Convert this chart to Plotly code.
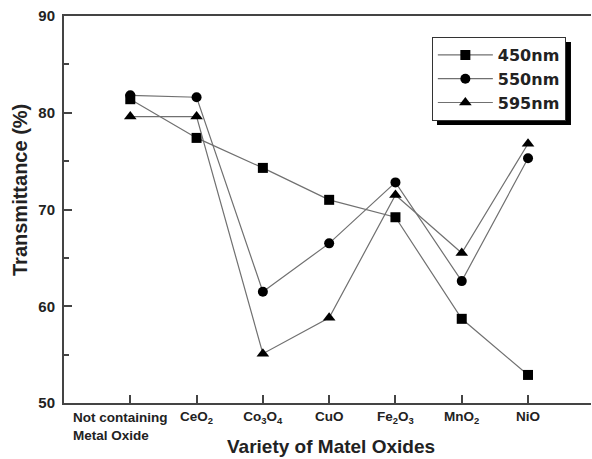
import plotly.graph_objects as go

categories = ["Not containing<br>Metal Oxide", "CeO<sub>2</sub>",
              "Co<sub>3</sub>O<sub>4</sub>", "CuO",
              "Fe<sub>2</sub>O<sub>3</sub>", "MnO<sub>2</sub>", "NiO"]
t450 = [81.4, 77.4, 74.3, 71.0, 69.2, 58.7, 52.9]
t550 = [81.8, 81.6, 61.5, 66.5, 72.8, 62.6, 75.3]
t595 = [79.6, 79.6, 55.1, 58.8, 71.5, 65.5, 76.8]
series_names = ["450nm", "550nm", "595nm"]
symbols = ["square", "circle", "triangle-up"]

xs = list(range(len(categories)))
fig = go.Figure()
for name, vals, sym in zip(series_names, [t450, t550, t595], symbols):
    fig.add_trace(go.Scatter(
        x=xs, y=vals, name=name, mode="lines+markers",
        line=dict(color="#707070", width=1.2),
        marker=dict(symbol=sym, size=10 if sym != "triangle-up" else 11, color="black"),
    ))

# first category label is left-aligned (two lines) as in the reference
ticktext = [""] + categories[1:]

font_family = "Liberation Sans, Arial, sans-serif"
tick_font = dict(size=13.5, weight="bold", color="#222222", family=font_family)
fig.update_layout(
    width=592, height=459,
    margin=dict(l=64, r=1, t=16, b=56),
    plot_bgcolor="white", paper_bgcolor="white",
    font=dict(family=font_family, color="#222222"),
    showlegend=True,
    legend=dict(
        x=0.698, y=0.9457, xanchor="left", yanchor="top",
        bgcolor="white", bordercolor="#333333", borderwidth=1,
        font=dict(size=16, family="DejaVu Sans", weight="bold", color="#222222"),
        tracegroupgap=0, itemwidth=55,
    ),
    xaxis=dict(
        range=[-1, 6.95], tickmode="array", tickvals=xs, ticktext=ticktext,
        tickangle=0, automargin=False,
        showline=True, linecolor="#444444", linewidth=2, mirror=True,
        ticks="inside", ticklen=8, tickwidth=1.5, tickcolor="#444444",
        showgrid=False, zeroline=False,
        tickfont=tick_font,
    ),
    yaxis=dict(
        range=[50, 90], dtick=10, tick0=50, automargin=False,
        showline=True, linecolor="#444444", linewidth=2,
        ticks="inside", ticklen=8, tickwidth=1.5, tickcolor="#444444",
        minor=dict(ticks="inside", dtick=5, ticklen=5, tickwidth=1.5, tickcolor="#444444"),
        showgrid=False, zeroline=False,
        tickfont=dict(size=15, weight="bold", color="#222222"),
        ticklabelstandoff=4,
    ),
    annotations=[
        dict(text=categories[0], x=xs[0], xref="x", y=0, yref="paper",
             xanchor="center", yanchor="top", align="left", showarrow=False,
             xshift=-10, yshift=-5, font=tick_font),
        dict(text="Transmittance (%)", textangle=-90, x=0, xref="paper", xshift=-44,
             y=0.5504, yref="paper", xanchor="center", yanchor="middle", showarrow=False,
             font=dict(size=20, weight="bold", color="#222222", family=font_family)),
        dict(text="Variety of Matel Oxides", x=0.5, xref="paper", xshift=3,
             y=0, yref="paper", yshift=-31, xanchor="center", yanchor="top", showarrow=False,
             font=dict(size=19, weight="bold", color="#222222", family=font_family)),
    ],
    shapes=[dict(type="rect", xref="paper", yref="paper",
                 x0=0.7078, x1=0.962, y0=0.7183, y1=0.9328,
                 fillcolor="black", line=dict(width=0), layer="above")],
)

fig.write_html("out.html")
